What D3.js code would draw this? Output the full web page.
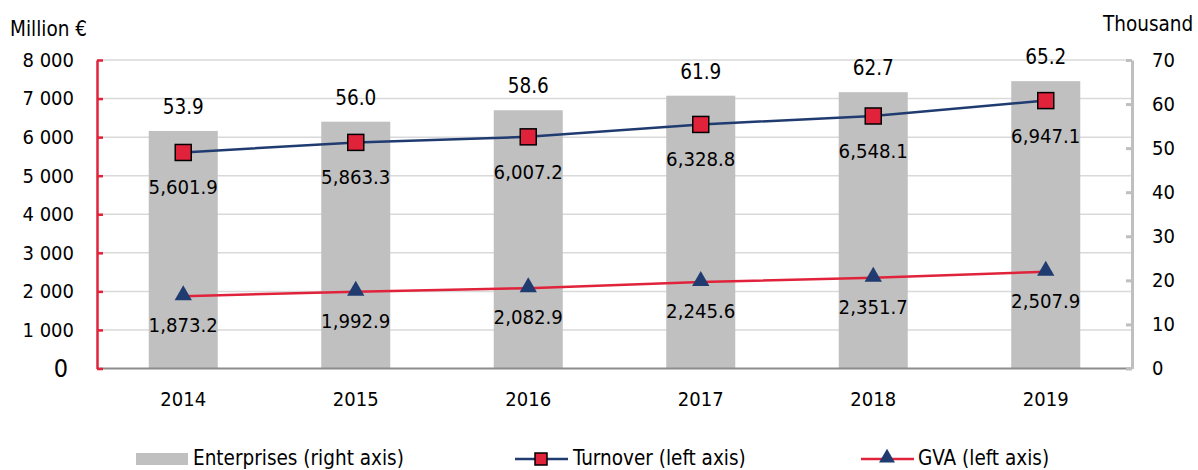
<!DOCTYPE html>
<html><head><meta charset="utf-8">
<script src="https://cdn.jsdelivr.net/npm/d3@7"></script>
<style>
body{margin:0;background:#fff;}
svg{display:block;font-family:"DejaVu Sans Condensed","DejaVu Sans",sans-serif;font-stretch:condensed;}
</style></head>
<body><svg id="c" width="1198" height="470"></svg>
<script>
const years = ["2014","2015","2016","2017","2018","2019"];
const enterprises = [53.9, 56.0, 58.6, 61.9, 62.7, 65.2];
const turnover = [5601.9, 5863.3, 6007.2, 6328.8, 6548.1, 6947.1];
const gva = [1873.2, 1992.9, 2082.9, 2245.6, 2351.7, 2507.9];
const leftTicks = [0,1000,2000,3000,4000,5000,6000,7000,8000];
const rightTicks = [0,10,20,30,40,50,60,70];
const leftTitle = "Million €";
const rightTitle = "Thousand";
const legendLabels = ["Enterprises (right axis)","Turnover (left axis)","GVA (left axis)"];

const NAVY = "#1F3B70", RED = "#E0233A", BAR = "#C0C0C0";
const L = 97, R = 1132, T = 60, B = 368.5;
const svg = d3.select("#c");

const x = d3.scaleBand().domain(years).range([L,R]).paddingInner(0.6).paddingOuter(0.3);
const cx = d => x(d) + x.bandwidth()/2;
const yL = d3.scaleLinear().domain([0,8000]).range([B,T]);
const yR = d3.scaleLinear().domain([0,70]).range([B,T]);

const spaceFmt = d3.formatLocale({decimal:".",thousands:" ",grouping:[3],currency:["",""]}).format(",d");
const f1 = d3.format(",.1f");

// gridlines
svg.append("g").selectAll("line").data(leftTicks.filter(d=>d>0)).join("line")
  .attr("x1",L).attr("x2",R).attr("y1",d=>yL(d)).attr("y2",d=>yL(d))
  .attr("stroke","#D9D9D9").attr("stroke-width",1.5);

// bars
svg.append("g").selectAll("rect").data(years).join("rect")
  .attr("x",d=>x(d)).attr("width",x.bandwidth())
  .attr("y",(d,i)=>yR(enterprises[i])).attr("height",(d,i)=>B-yR(enterprises[i]))
  .attr("fill",BAR);

// bottom axis line
svg.append("line").attr("x1",L).attr("x2",R).attr("y1",B).attr("y2",B)
  .attr("stroke","#8C8C8C").attr("stroke-width",2);

// left axis
const gl = svg.append("g").attr("transform",`translate(${L},0)`)
  .call(d3.axisLeft(yL).tickValues(leftTicks).tickFormat(spaceFmt).tickSize(-6).tickSizeOuter(0).tickPadding(23));
gl.select(".domain").attr("stroke",RED).attr("stroke-width",2.5);
gl.selectAll(".tick line").attr("stroke",RED).attr("stroke-width",2.5);
gl.selectAll(".tick text").attr("font-size",20).attr("fill","#000");
gl.selectAll(".tick").filter(d=>d===0).select("text").attr("font-size",25).attr("x",-29);
gl.attr("font-family",null).attr("font-size",null);

// right axis
const gr = svg.append("g").attr("transform",`translate(${R},0)`)
  .call(d3.axisRight(yR).tickValues(rightTicks).tickSize(-6).tickSizeOuter(0).tickPadding(20));
gr.select(".domain").attr("stroke","#BFBFBF").attr("stroke-width",3);
gr.selectAll(".tick line").attr("stroke","#BFBFBF").attr("stroke-width",3);
gr.selectAll(".tick text").attr("font-size",20).attr("fill","#000");
gr.attr("font-family",null).attr("font-size",null);

// x labels
svg.append("g").selectAll("text").data(years).join("text")
  .attr("x",d=>cx(d)).attr("y",406).attr("text-anchor","middle")
  .attr("font-size",20).text(d=>d);

// axis titles
svg.append("text").attr("x",10).attr("y",36).attr("font-size",20.5).text(leftTitle);
svg.append("text").attr("x",1103).attr("y",31).attr("font-size",20.5).text(rightTitle);

// lines
const line = d3.line().x((d,i)=>cx(years[i])).y(d=>yL(d));
svg.append("path").datum(turnover).attr("d",line).attr("fill","none").attr("stroke",NAVY).attr("stroke-width",2.5);
svg.append("path").datum(gva).attr("d",line).attr("fill","none").attr("stroke",RED).attr("stroke-width",2.5);

// markers
svg.append("g").selectAll("rect").data(turnover).join("rect")
  .attr("x",(d,i)=>cx(years[i])-8).attr("y",d=>yL(d)-8).attr("width",16).attr("height",16)
  .attr("fill",RED).attr("stroke","#000").attr("stroke-width",1.5);
const tri = d3.symbol().type(d3.symbolTriangle).size(130);
svg.append("g").selectAll("path").data(gva).join("path")
  .attr("transform",(d,i)=>`translate(${cx(years[i])},${yL(d)-1})`).attr("d",tri).attr("fill",NAVY);

// data labels
svg.append("g").selectAll("text").data(enterprises).join("text")
  .attr("x",(d,i)=>cx(years[i])).attr("y",d=>yR(d)-17).attr("text-anchor","middle")
  .attr("font-size",20.5).text(d=>d.toFixed(1));
svg.append("g").selectAll("text").data(turnover).join("text")
  .attr("x",(d,i)=>cx(years[i])).attr("y",d=>yL(d)+42).attr("text-anchor","middle")
  .attr("font-size",20.2).text(d=>f1(d));
svg.append("g").selectAll("text").data(gva).join("text")
  .attr("x",(d,i)=>cx(years[i])).attr("y",d=>yL(d)+36).attr("text-anchor","middle")
  .attr("font-size",20.2).text(d=>f1(d));

// legend
const lg = svg.append("g");
lg.append("rect").attr("x",136).attr("y",453).attr("width",52).attr("height",12).attr("fill",BAR);
lg.append("text").attr("x",193).attr("y",464.5).attr("font-size",20.5).text(legendLabels[0]);
lg.append("line").attr("x1",515).attr("x2",568).attr("y1",459).attr("y2",459).attr("stroke",NAVY).attr("stroke-width",2.5);
lg.append("rect").attr("x",535).attr("y",453).attr("width",12).attr("height",12).attr("fill",RED).attr("stroke","#000").attr("stroke-width",1.5);
lg.append("text").attr("x",573).attr("y",464.5).attr("font-size",20.5).text(legendLabels[1]);
lg.append("line").attr("x1",861).attr("x2",914).attr("y1",459).attr("y2",459).attr("stroke",RED).attr("stroke-width",2.5);
lg.append("path").attr("transform","translate(887,458)").attr("d",d3.symbol().type(d3.symbolTriangle).size(110)).attr("fill",NAVY);
lg.append("text").attr("x",918).attr("y",464.5).attr("font-size",20.5).text(legendLabels[2]);
</script></body></html>
